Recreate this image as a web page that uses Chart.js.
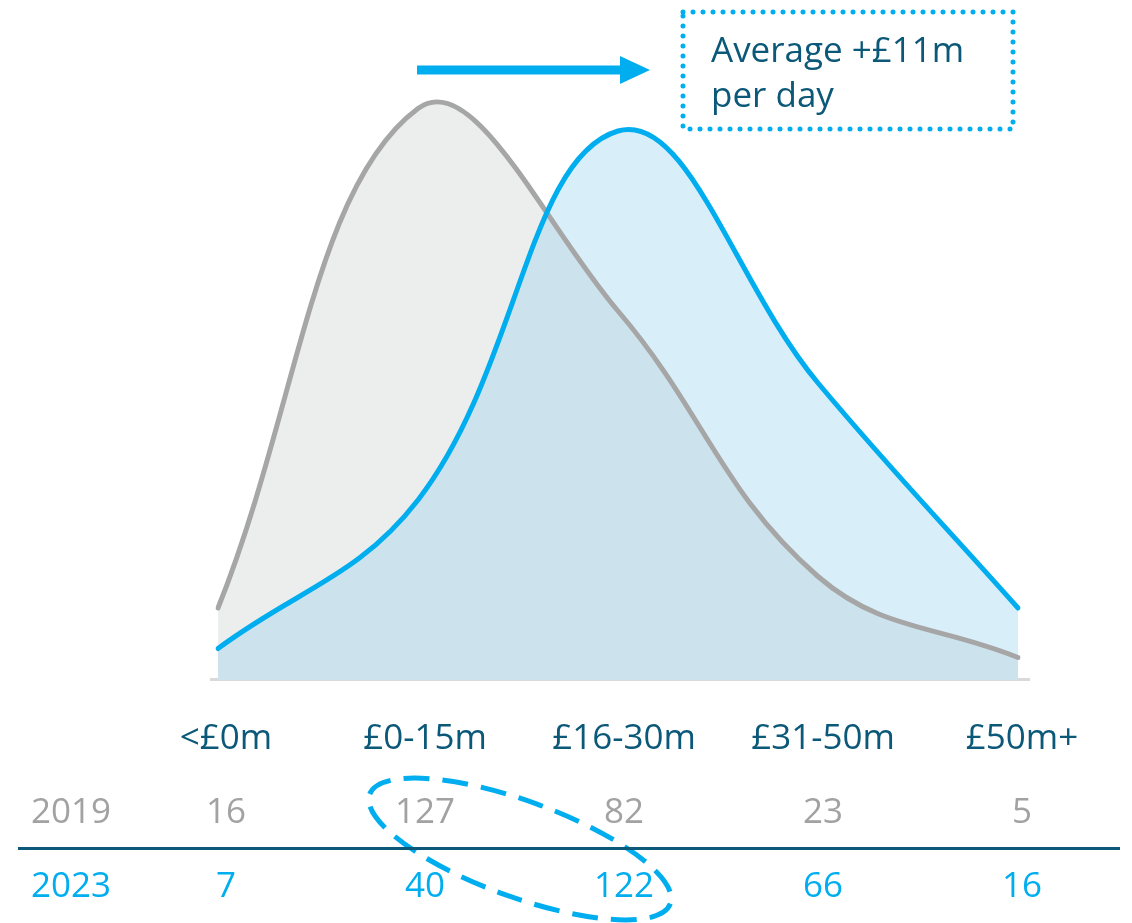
<!DOCTYPE html>
<html>
<head>
<meta charset="utf-8">
<script src="https://cdn.jsdelivr.net/npm/chart.js@4.4.1/dist/chart.umd.min.js"></script>
<style>
  html, body { margin: 0; padding: 0; background: #fff; }
  body { width: 1132px; height: 923px; position: relative; overflow: hidden;
         font-family: "Open Sans", "Noto Sans", sans-serif; }
  #wrap { position: absolute; left: 200px; top: 30px; width: 836px; height: 670px; }
  .axis { position: absolute; left: 210px; top: 678px; width: 820px; height: 3px; background: #d9d9d9; }
  .lbl { position: absolute; width: 200px; margin-left: -100px; text-align: center;
         font-size: 35px; line-height: 40px; }
  .head { color: #0b5878; }
  .y19 { color: #a2a2a2; }
  .y23 { color: #00aeef; }
  .rule { position: absolute; left: 18px; top: 847px; width: 1102px; height: 3px; background: #0b5878; }
  .note { position: absolute; left: 711px; top: 26px; font-size: 35px; line-height: 45px; color: #0b5878; }
  svg { position: absolute; left: 0; top: 0; }
</style>
</head>
<body>
<div class="axis"></div>
<div id="wrap"><canvas id="distChart"></canvas></div>

<svg width="1132" height="923">
  <line x1="417" y1="70" x2="622" y2="70" stroke="#00aeef" stroke-width="9"/>
  <polygon points="620,56 650,70 620,84" fill="#00aeef"/>
  <rect x="683" y="12" width="330" height="117" fill="none" stroke="#00aeef"
        stroke-width="5" stroke-dasharray="0 10" stroke-linecap="round"/>
  <ellipse cx="520" cy="849" rx="160" ry="48" transform="rotate(20 520 849)"
           fill="none" stroke="#00aeef" stroke-width="5" stroke-dasharray="26 13"/>
</svg>

<div class="note">Average +£11m<br>per day</div>
<div class="rule"></div>
<div id="table"></div>

<script>
const categories = ["<£0m", "£0-15m", "£16-30m", "£31-50m", "£50m+"];
const days2019 = [16, 127, 82, 23, 5];
const days2023 = [7, 40, 122, 66, 16];
const rowLabels = ["2019", "2023"];

// table under the chart: category headers then one row per year
const colX = [226, 425, 624, 823, 1022];
const table = document.getElementById("table");
function addLabel(text, x, y, cls) {
  const el = document.createElement("div");
  el.className = "lbl " + cls;
  el.style.left = x + "px";
  el.style.top = (y - 22) + "px";
  el.textContent = text;
  table.appendChild(el);
}
categories.forEach((c, i) => addLabel(c, colX[i], 738, "head"));
addLabel(rowLabels[0], 71, 812, "y19");
addLabel(rowLabels[1], 71, 886, "y23");
days2019.forEach((v, i) => addLabel(String(v), colX[i], 812, "y19"));
days2023.forEach((v, i) => addLabel(String(v), colX[i], 886, "y23"));

const ctx = document.getElementById("distChart");
new Chart(ctx, {
  type: "line",
  data: {
    labels: categories,
    datasets: [
      {
        label: rowLabels[0],
        data: days2019,
        order: 2,
        borderColor: "#a6a6a6",
        backgroundColor: "#eceeee",
        borderWidth: 5,
        fill: "origin",
        tension: 0.4,
        pointRadius: 0,
        borderCapStyle: "round",
      },
      {
        label: rowLabels[1],
        data: days2023,
        order: 1,
        borderColor: "#00aeef",
        backgroundColor: "rgba(150, 208, 236, 0.37)",
        borderWidth: 5,
        fill: "origin",
        tension: 0.4,
        pointRadius: 0,
        borderCapStyle: "round",
      },
    ],
  },
  options: {
    responsive: true,
    maintainAspectRatio: false,
    animation: false,
    layout: { padding: { left: 18, right: 18, top: 20, bottom: 20 } },
    scales: {
      x: { display: false, offset: false },
      y: { display: false, min: 0, max: 140 },
    },
    plugins: {
      legend: { display: false },
      tooltip: { enabled: false },
      filler: { drawTime: "beforeDatasetsDraw" },
    },
  },
});
</script>
</body>
</html>
